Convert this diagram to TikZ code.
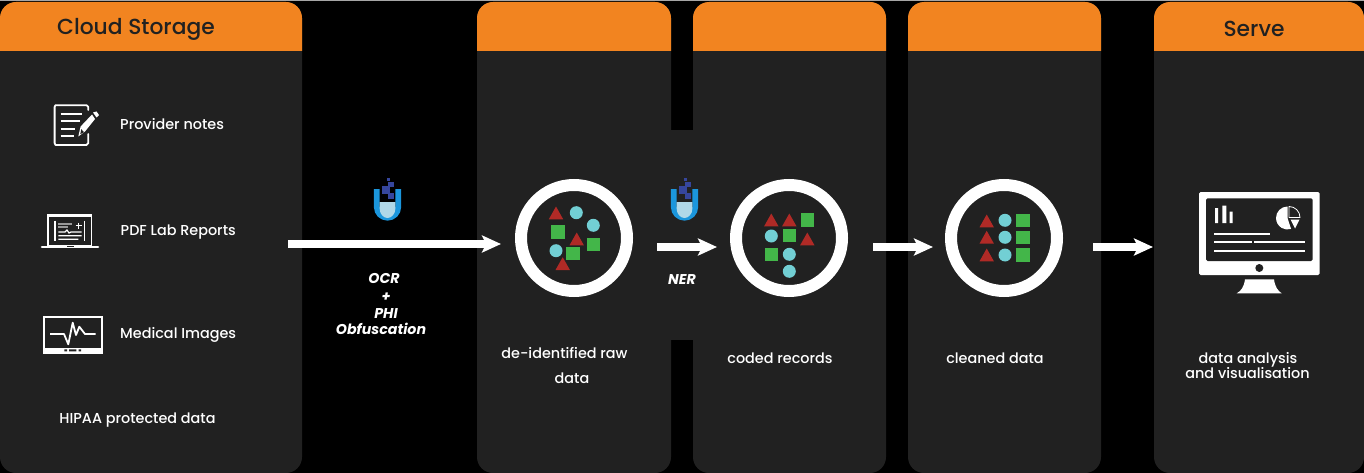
\documentclass[tikz,border=0pt]{standalone}
\usepackage{fontspec}
\setmainfont{Poppins}
\newfontfamily\medfont{Poppins Medium}
\newfontfamily\boldit{Poppins}[UprightFont=* Bold Italic]
\usetikzlibrary{arrows.meta}
\definecolor{panelc}{HTML}{212121}
\definecolor{headc}{HTML}{F28420}
\definecolor{redc}{HTML}{B02A26}
\definecolor{cyanc}{HTML}{72CFD4}
\definecolor{greenc}{HTML}{43B649}
\definecolor{flaskb}{HTML}{1B96DC}
\definecolor{flaskl}{HTML}{B0D8E8}
\definecolor{flaskd}{HTML}{36469C}
\tikzset{
  panel/.style={fill=panelc,rounded corners=16pt},
  head/.style={fill=headc},
  ring/.style={circle,draw=white,line width=12pt,minimum size=106pt,inner sep=0pt},
  bigarrow/.style={draw=white,line width=8pt,-{Stealth[length=19pt,width=17pt,inset=4pt]}},
  lab/.style={text=white,font=\fontsize{14.4}{14}\selectfont\medfont,inner sep=0pt,text height=10.5pt,text depth=3.5pt},
  title/.style={text=panelc,font=\fontsize{21.8}{22}\selectfont\medfont,inner sep=0pt,text height=16pt,text depth=5pt},
  oplab/.style={text=white,font=\fontsize{14.2}{14}\selectfont\boldit,inner sep=0pt,text height=10.5pt,text depth=3.5pt},
  ic/.style={draw=white,line width=1.8pt},
  icthin/.style={draw=white,line width=1.2pt},
}
\newcommand{\tri}[2]{\fill[redc] (#1-7.2,#2+6.3) -- (#1+7.2,#2+6.3) -- (#1,#2-6.5) -- cycle;}
\newcommand{\cir}[2]{\fill[cyanc] (#1,#2) circle (6.5pt);}
\newcommand{\squ}[2]{\fill[greenc] (#1-6.6,#2-6.6) rectangle (#1+6.6,#2+6.6);}
\newcommand{\flask}[1]{%
  \begin{scope}[shift={(#1,0)}]
    \draw[flaskb,line width=5.8pt] (-10.7,189) -- (-10.7,207) arc[start angle=180,end angle=360,radius=10.7pt] -- (10.7,189);
    \fill[flaskl] (-7.8,202) -- (7.8,202) -- (7.8,209) .. controls (7.8,214) and (4,218) .. (0,218) .. controls (-4,218) and (-7.8,214) .. (-7.8,209) -- cycle;
    \fill[flaskd] (-1,178) rectangle (2,181.4);
    \fill[flaskd] (-5.8,186) rectangle (2.5,194);
    \fill[flaskd] (0.8,182) rectangle (6.8,187);
    \fill[flaskd] (0.2,193.3) rectangle (6.8,199.3);
  \end{scope}}
\begin{document}
\begin{tikzpicture}[x=1pt,y=-1pt]
\useasboundingbox (0,0) rectangle (1364,473);
\fill[black] (0,0) rectangle (1364,473);
\fill[gray!70] (0,0) rectangle (1364,1.2);
% panels
\foreach \a/\b in {0/302,477/671,693/886,908/1101,1154/1364}{
  \fill[panel] (\a,2) rectangle (\b,473);
  \begin{scope}
    \clip (\a,0) rectangle (\b,51);
    \fill[head,rounded corners=16pt] (\a,2) rectangle (\b,90);
  \end{scope}
}
\fill[panelc] (670,130) rectangle (694,340);
% titles
\node[title] (t1) at (136,29.5) {Cloud Storage};
\node[title] (t5) at (1254,31) {Serve};
% left labels
\node[lab,anchor=west] (l1) at (120,125.8) {Provider notes};
\node[lab,anchor=west] (l2) at (120.5,232.2) {PDF Lab Reports};
\node[lab,anchor=west] (l3) at (120,334.8) {Medical Images};
\node[lab] (l4) at (137.5,419.5) {HIPAA protected data};
% notes icon
\draw[ic,line cap=round,line join=round] (88.3,110) -- (88.3,107) -- (86.5,105.2) -- (55.5,105.2) -- (54.6,107) -- (54.6,143) -- (55.5,145) -- (86.5,145) -- (88.3,143) -- (88.3,134);
\draw[ic,line width=2pt] (60.5,114.3) -- (82,114.3) (60.5,121.3) -- (80,121.3) (60.5,128.7) -- (75,128.7) (60.5,136) -- (74,136);
\fill[white] (78.3,136.5) -- (80.6,126.5) -- (92,114.5) -- (95,119) -- (85,131.5) -- cycle;
\fill[panelc] (80.3,134.2) -- (81.3,129.2) -- (84,132.2) -- cycle;
\fill[white] (93,112.5) -- (96.5,111.5) -- (99,115) -- (96.5,117.5) -- cycle;
% laptop icon
\draw[ic] (48.2,215.2) rectangle (91.4,245.7);
\fill[white] (47.3,214.3) rectangle (92.3,217.3);
\draw[white,line width=2.6pt,line cap=round] (42,247) -- (98,247);
\fill[panelc] (66.5,245.6) rectangle (73.5,247);
\draw[icthin] (55,220.7) -- (55,240.7) (84.7,220.7) -- (84.7,240.7);
\draw[gray!80,line width=1.6pt] (58.3,224) -- (72,224) (58.3,227) -- (68.3,227);
\draw[white,line width=1.4pt] (78.7,222.5) -- (78.7,228.5) (75.7,225.5) -- (81.7,225.5);
\draw[icthin] (58.3,232) -- (65,232) -- (67,230) -- (69,233) -- (71,232) -- (81.5,232) (58.3,235.7) -- (81.5,235.7) (58.3,239.3) -- (78.3,239.3);
% medical icon
\fill[white] (43,316) rectangle (102.7,354.3);
\fill[panelc] (44.7,318) rectangle (101,347.7);
\draw[white,line width=1.8pt,line join=round] (50,334) -- (64,334) -- (68.3,344.3) -- (72.7,322.7) -- (76,335) -- (79.3,326.7) -- (85,334) -- (95.7,334);
\fill[panelc] (64.3,349.3) rectangle (67,351.3) (69,349.3) rectangle (76.3,351.3) (78.6,349.3) rectangle (81,351.3);
% arrows
\coordinate (a1s) at (288,244);
\coordinate (a1e) at (501,244);
\coordinate (a2s) at (657,247);
\coordinate (a2e) at (717,247);
\coordinate (a3s) at (873,247);
\coordinate (a3e) at (933,247);
\coordinate (a4s) at (1093,247);
\coordinate (a4e) at (1153,247);
\draw[bigarrow] (a1s) -- (a1e);
\draw[bigarrow] (a2s) -- (a2e);
\draw[bigarrow] (a3s) -- (a3e);
\draw[bigarrow] (a4s) -- (a4e);
% flasks
\flask{387.5}
\flask{684.5}
% operation labels
\node[oplab] (o1) at (384,279.5) {OCR};
\node[oplab] (o2) at (386,297.5) {+};
\node[oplab] (o3) at (386,314.5) {PHI};
\node[oplab] (o4) at (381,330.5) {Obfuscation};
\node[oplab] (o5) at (682,280.5) {NER};
% rings
\node[ring] (r1) at (574,238) {};
\node[ring] (r2) at (789,238) {};
\node[ring] (r3) at (1004,238) {};
\tri{556}{213}\cir{576.3}{212.7}\cir{593.3}{225.3}\squ{558}{232}\tri{576.7}{239}\squ{593.3}{244.3}\cir{556}{250.7}\squ{573}{253.3}\tri{562.7}{263.7}
\tri{771.3}{220}\tri{789.3}{220}\squ{807.3}{220}\cir{771.3}{236}\squ{789.3}{235.7}\tri{807.3}{239}\squ{771.3}{254.3}\cir{789.3}{254.3}\cir{789.3}{271.3}
\tri{986.7}{221}\cir{1005}{220.3}\squ{1023}{220.3}\tri{986.7}{237.3}\cir{1005}{237.3}\squ{1023}{237.3}\tri{986.7}{255}\cir{1005}{255}\squ{1023}{255}
% panel captions
\node[lab] (c1a) at (564.5,354.5) {de-identified raw};
\node[lab] (c1b) at (572,379.5) {data};
\node[lab] (c2) at (780,359.5) {coded records};
\node[lab] (c3) at (995,359.5) {cleaned data};
\node[lab] (c4a) at (1248,360) {data analysis};
\node[lab] (c4b) at (1247.5,375) {and visualisation};
% monitor
\fill[white,rounded corners=1.5pt] (1199,192) rectangle (1319.7,275);
\fill[panelc,rounded corners=1.5pt] (1206,198.3) rectangle (1312.7,261);
\fill[panelc] (1259.3,268) circle (4pt);
\fill[white] (1245,279.3) -- (1274,279.3) .. controls (1275,287) and (1278,291) .. (1281.7,293.3) -- (1236.7,293.3) .. controls (1241,291) and (1244,287) .. (1245,279.3) -- cycle;
\fill[white] (1215,208) rectangle (1218,223) (1222.3,205.7) rectangle (1226.3,223) (1229.7,211.7) rectangle (1232.7,223);
\fill[white] (1287.5,218) -- (1287.5,206.5) arc[start angle=90,end angle=288,radius=11.5pt] -- cycle;
\draw[white,line width=0.8pt,line join=round] (1289,217.5) -- (1289,206.5) arc[start angle=90,end angle=0,radius=11pt] -- cycle;
\fill[white] (1290.5,219.5) -- (1299.5,219.5) -- (1295,228.5) -- cycle;
\draw[white,line width=2.3pt] (1214,234) -- (1270,234) (1214,242.3) -- (1251.7,242.3) (1254.3,242.3) -- (1304.7,242.3) (1214.3,251.3) -- (1304.7,251.3);
\end{tikzpicture}
\end{document}
